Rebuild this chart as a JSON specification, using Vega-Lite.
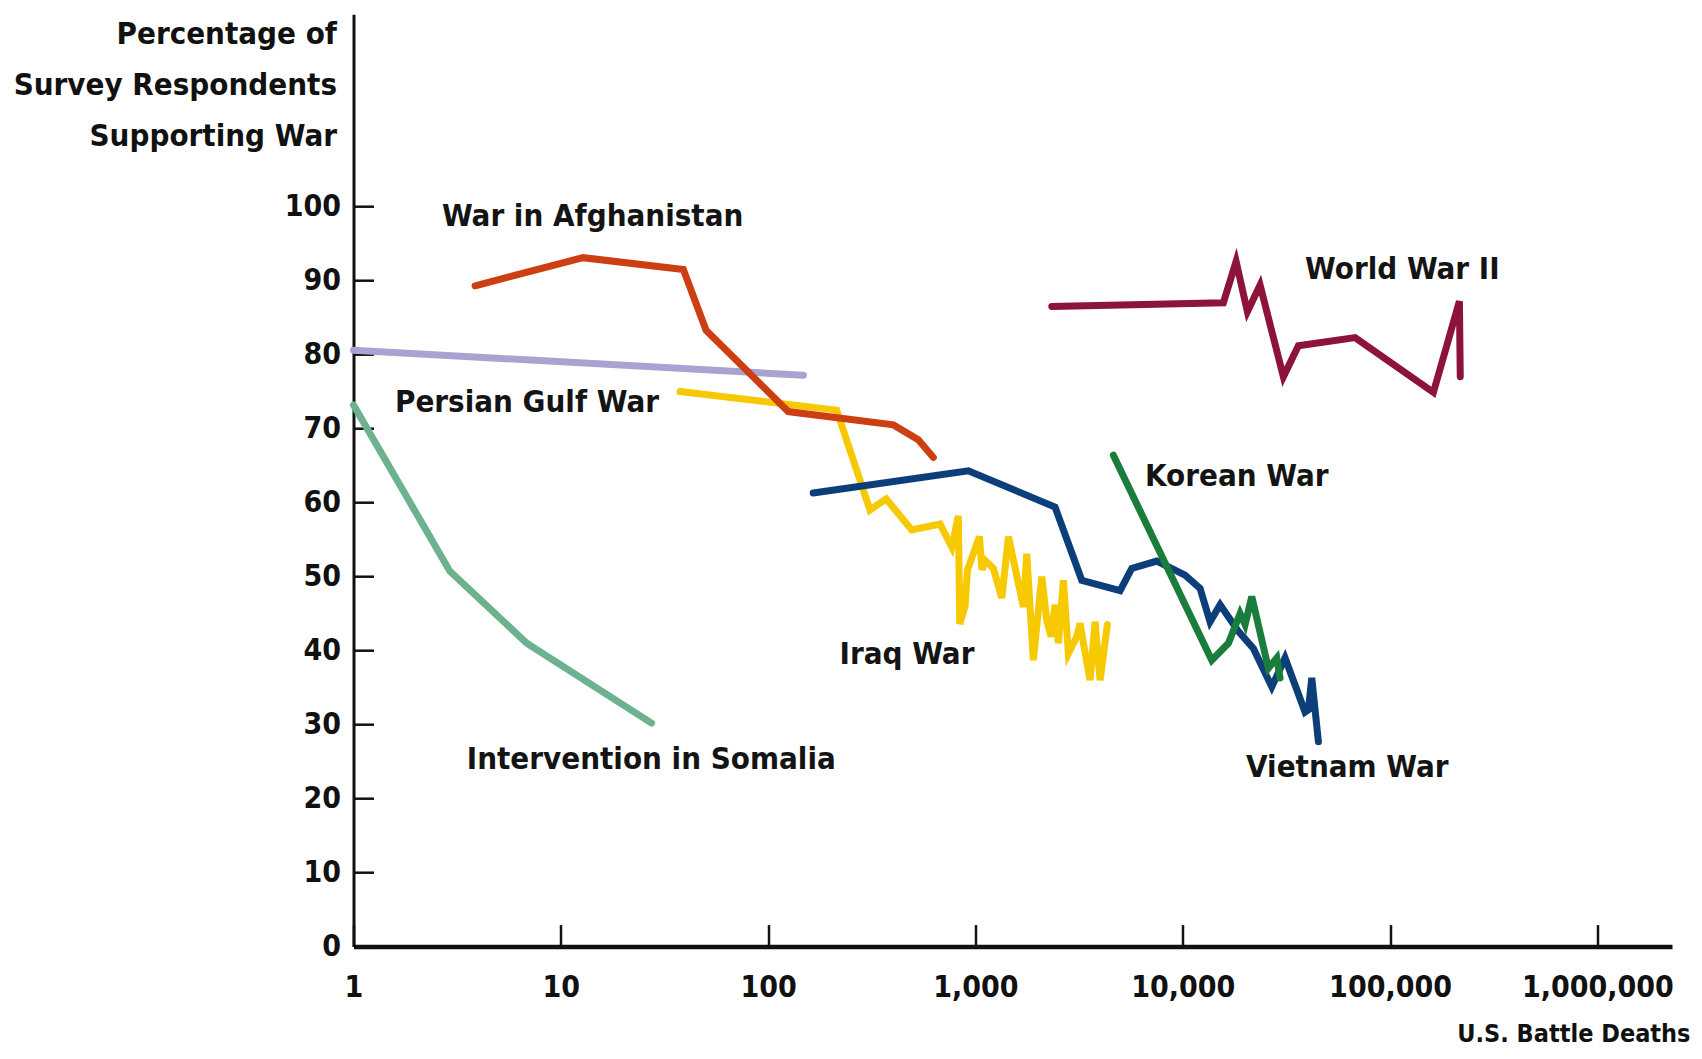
{
  "$schema": "https://vega.github.io/schema/vega-lite/v6.json",
  "width": 1318.5,
  "height": 932.4,
  "autosize": "none",
  "padding": {"left": 353.5, "top": 14.2, "right": 30, "bottom": 112.4},
  "background": "white",
  "datasets": {
    "lines": [
      {"war": "Persian Gulf War", "i": 1, "deaths": 1.0, "support": 80.6},
      {"war": "Persian Gulf War", "i": 2, "deaths": 148, "support": 77.2},
      {"war": "Intervention in Somalia", "i": 1, "deaths": 1.0, "support": 73.2},
      {"war": "Intervention in Somalia", "i": 2, "deaths": 2.92, "support": 50.7},
      {"war": "Intervention in Somalia", "i": 3, "deaths": 6.85, "support": 41.0},
      {"war": "Intervention in Somalia", "i": 4, "deaths": 27.4, "support": 30.2},
      {"war": "Iraq War", "i": 1, "deaths": 37.6, "support": 75.0},
      {"war": "Iraq War", "i": 2, "deaths": 214, "support": 72.5},
      {"war": "Iraq War", "i": 3, "deaths": 310, "support": 59.0},
      {"war": "Iraq War", "i": 4, "deaths": 371, "support": 60.5},
      {"war": "Iraq War", "i": 5, "deaths": 493, "support": 56.3},
      {"war": "Iraq War", "i": 6, "deaths": 675, "support": 57.1},
      {"war": "Iraq War", "i": 7, "deaths": 769, "support": 54.0},
      {"war": "Iraq War", "i": 8, "deaths": 827, "support": 58.2},
      {"war": "Iraq War", "i": 9, "deaths": 840, "support": 43.6},
      {"war": "Iraq War", "i": 10, "deaths": 891, "support": 46.0},
      {"war": "Iraq War", "i": 11, "deaths": 915, "support": 50.9},
      {"war": "Iraq War", "i": 12, "deaths": 1045, "support": 55.4},
      {"war": "Iraq War", "i": 13, "deaths": 1075, "support": 50.9},
      {"war": "Iraq War", "i": 14, "deaths": 1112, "support": 52.2},
      {"war": "Iraq War", "i": 15, "deaths": 1221, "support": 51.1},
      {"war": "Iraq War", "i": 16, "deaths": 1340, "support": 47.1},
      {"war": "Iraq War", "i": 17, "deaths": 1443, "support": 55.4},
      {"war": "Iraq War", "i": 18, "deaths": 1703, "support": 45.9},
      {"war": "Iraq War", "i": 19, "deaths": 1768, "support": 53.1},
      {"war": "Iraq War", "i": 20, "deaths": 1902, "support": 38.7},
      {"war": "Iraq War", "i": 21, "deaths": 2089, "support": 50.0},
      {"war": "Iraq War", "i": 22, "deaths": 2208, "support": 44.1},
      {"war": "Iraq War", "i": 23, "deaths": 2316, "support": 41.9},
      {"war": "Iraq War", "i": 24, "deaths": 2422, "support": 46.2},
      {"war": "Iraq War", "i": 25, "deaths": 2513, "support": 41.0},
      {"war": "Iraq War", "i": 26, "deaths": 2656, "support": 49.5},
      {"war": "Iraq War", "i": 27, "deaths": 2807, "support": 39.6},
      {"war": "Iraq War", "i": 28, "deaths": 3082, "support": 41.9},
      {"war": "Iraq War", "i": 29, "deaths": 3197, "support": 43.7},
      {"war": "Iraq War", "i": 30, "deaths": 3317, "support": 41.0},
      {"war": "Iraq War", "i": 31, "deaths": 3573, "support": 36.0},
      {"war": "Iraq War", "i": 32, "deaths": 3776, "support": 43.9},
      {"war": "Iraq War", "i": 33, "deaths": 3992, "support": 36.0},
      {"war": "Iraq War", "i": 34, "deaths": 4328, "support": 43.5},
      {"war": "War in Afghanistan", "i": 1, "deaths": 3.86, "support": 89.3},
      {"war": "War in Afghanistan", "i": 2, "deaths": 12.8, "support": 93.1},
      {"war": "War in Afghanistan", "i": 3, "deaths": 39, "support": 91.5},
      {"war": "War in Afghanistan", "i": 4, "deaths": 50.2, "support": 83.3},
      {"war": "War in Afghanistan", "i": 5, "deaths": 125, "support": 72.3},
      {"war": "War in Afghanistan", "i": 6, "deaths": 402, "support": 70.5},
      {"war": "War in Afghanistan", "i": 7, "deaths": 530, "support": 68.5},
      {"war": "War in Afghanistan", "i": 8, "deaths": 627, "support": 66.1},
      {"war": "Vietnam War", "i": 1, "deaths": 165, "support": 61.3},
      {"war": "Vietnam War", "i": 2, "deaths": 924, "support": 64.3},
      {"war": "Vietnam War", "i": 3, "deaths": 2421, "support": 59.4},
      {"war": "Vietnam War", "i": 4, "deaths": 3258, "support": 49.5},
      {"war": "Vietnam War", "i": 5, "deaths": 4984, "support": 48.1},
      {"war": "Vietnam War", "i": 6, "deaths": 5675, "support": 51.1},
      {"war": "Vietnam War", "i": 7, "deaths": 7491, "support": 52.1},
      {"war": "Vietnam War", "i": 8, "deaths": 10260, "support": 50.2},
      {"war": "Vietnam War", "i": 9, "deaths": 12120, "support": 48.4},
      {"war": "Vietnam War", "i": 10, "deaths": 13540, "support": 43.9},
      {"war": "Vietnam War", "i": 11, "deaths": 15140, "support": 46.2},
      {"war": "Vietnam War", "i": 12, "deaths": 18550, "support": 42.6},
      {"war": "Vietnam War", "i": 13, "deaths": 21910, "support": 40.3},
      {"war": "Vietnam War", "i": 14, "deaths": 26880, "support": 35.1},
      {"war": "Vietnam War", "i": 15, "deaths": 31140, "support": 39.0},
      {"war": "Vietnam War", "i": 16, "deaths": 38900, "support": 31.7},
      {"war": "Vietnam War", "i": 17, "deaths": 40360, "support": 32.0},
      {"war": "Vietnam War", "i": 18, "deaths": 41900, "support": 36.3},
      {"war": "Vietnam War", "i": 19, "deaths": 45100, "support": 27.7},
      {"war": "Korean War", "i": 1, "deaths": 4627, "support": 66.4},
      {"war": "Korean War", "i": 2, "deaths": 13800, "support": 38.7},
      {"war": "Korean War", "i": 3, "deaths": 16600, "support": 41.0},
      {"war": "Korean War", "i": 4, "deaths": 18900, "support": 45.0},
      {"war": "Korean War", "i": 5, "deaths": 19980, "support": 43.5},
      {"war": "Korean War", "i": 6, "deaths": 21520, "support": 47.3},
      {"war": "Korean War", "i": 7, "deaths": 25870, "support": 37.6},
      {"war": "Korean War", "i": 8, "deaths": 28410, "support": 39.0},
      {"war": "Korean War", "i": 9, "deaths": 29470, "support": 36.3},
      {"war": "World War II", "i": 1, "deaths": 2334, "support": 86.5},
      {"war": "World War II", "i": 2, "deaths": 15700, "support": 87.0},
      {"war": "World War II", "i": 3, "deaths": 18080, "support": 92.6},
      {"war": "World War II", "i": 4, "deaths": 20500, "support": 85.8},
      {"war": "World War II", "i": 5, "deaths": 23600, "support": 89.4},
      {"war": "World War II", "i": 6, "deaths": 30570, "support": 77.0},
      {"war": "World War II", "i": 7, "deaths": 36120, "support": 81.2},
      {"war": "World War II", "i": 8, "deaths": 67800, "support": 82.3},
      {"war": "World War II", "i": 9, "deaths": 161800, "support": 74.9},
      {"war": "World War II", "i": 10, "deaths": 216000, "support": 87.2},
      {"war": "World War II", "i": 11, "deaths": 218000, "support": 77.0}
    ],
    "labels": [
      {"label": "War in Afghanistan", "deaths": 2.67, "support": 98.6},
      {"label": "Persian Gulf War", "deaths": 1.585, "support": 73.4},
      {"label": "Iraq War", "deaths": 221, "support": 39.4},
      {"label": "Korean War", "deaths": 6577, "support": 63.5},
      {"label": "World War II", "deaths": 38900, "support": 91.4},
      {"label": "Vietnam War", "deaths": 20200, "support": 24.1},
      {"label": "Intervention in Somalia", "deaths": 3.52, "support": 25.2}
    ]
  },
  "layer": [
    {
      "data": {"name": "lines"},
      "mark": {"type": "line", "strokeWidth": 7, "strokeCap": "round", "clip": false},
      "encoding": {
        "x": {
          "field": "deaths",
          "type": "quantitative",
          "scale": {"type": "log", "domain": [1, 2290000], "nice": false},
          "axis": {
            "values": [1, 10, 100, 1000, 10000, 100000, 1000000],
            "format": ",d",
            "title": "U.S. Battle Deaths",
            "titleAlign": "right",
            "titleAnchor": "start",
            "titleX": 1336.5,
            "titleY": 95,
            "titleBaseline": "alphabetic",
            "titleFontSize": 25
          }
        },
        "y": {
          "field": "support",
          "type": "quantitative",
          "scale": {"domain": [0, 126], "nice": false, "zero": true},
          "axis": {
            "values": [0, 10, 20, 30, 40, 50, 60, 70, 80, 90, 100],
            "title": ["Percentage of", "Survey Respondents", "Supporting War"],
            "titleAngle": 0,
            "titleAlign": "right",
            "titleAnchor": "start",
            "titleBaseline": "alphabetic",
            "titleX": -17,
            "titleY": 29,
            "titleLineHeight": 51,
            "titleFontSize": 31
          }
        },
        "color": {
          "field": "war",
          "type": "nominal",
          "scale": {
            "domain": ["Persian Gulf War", "Intervention in Somalia", "Iraq War", "War in Afghanistan", "Vietnam War", "Korean War", "World War II"],
            "range": ["#a8a4d2", "#6db28f", "#f7c900", "#cc3f12", "#0c3e7a", "#1b7d3b", "#8c1439"]
          },
          "legend": null
        },
        "order": {"field": "i", "type": "quantitative"}
      }
    },
    {
      "data": {"name": "labels"},
      "mark": {
        "type": "text",
        "align": "left",
        "baseline": "middle",
        "font": "DejaVu Sans Condensed, sans-serif",
        "fontWeight": "bold",
        "fontSize": 31,
        "color": "#141414"
      },
      "encoding": {
        "x": {"field": "deaths", "type": "quantitative"},
        "y": {"field": "support", "type": "quantitative"},
        "text": {"field": "label"}
      }
    }
  ],
  "config": {
    "view": {"stroke": null},
    "axis": {
      "grid": false,
      "domainColor": "#111111",
      "tickColor": "#111111",
      "labelColor": "#111111",
      "titleColor": "#111111",
      "labelFont": "DejaVu Sans Condensed, sans-serif",
      "titleFont": "DejaVu Sans Condensed, sans-serif",
      "labelFontWeight": "bold",
      "titleFontWeight": "bold",
      "labelFontSize": 30,
      "labelLimit": 0,
      "titleLimit": 0,
      "labelOverlap": false,
      "labelFlush": false,
      "tickWidth": 2.5
    },
    "axisX": {"domainWidth": 4.5, "tickSize": -22, "labelPadding": 48},
    "axisY": {"domainWidth": 3, "tickSize": -20, "labelPadding": 33, "labelBaseline": "middle"}
  }
}
